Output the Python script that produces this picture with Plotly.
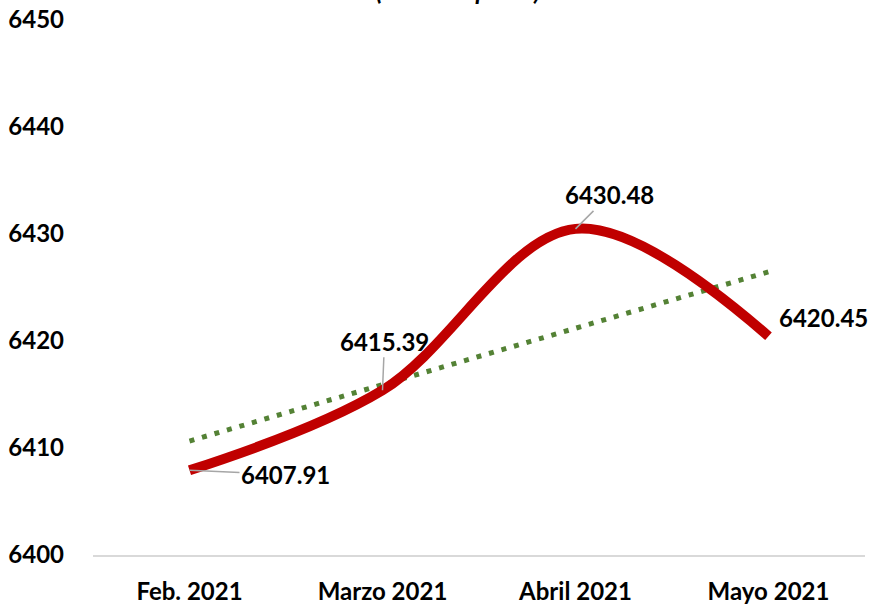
import plotly.graph_objects as go
import numpy as np

categories = ["Feb. 2021", "Marzo 2021", "Abril 2021", "Mayo 2021"]
values = [6407.91, 6415.39, 6430.48, 6420.45]
value_labels = ["6407.91", "6415.39", "6430.48", "6420.45"]
y_ticks = [6400, 6410, 6420, 6430, 6440, 6450]
title_text = "(Miles de pesos)"

# linear trend (least squares) from the data
xi = np.arange(len(values))
slope, intercept = np.polyfit(xi, values, 1)
trend = [intercept + slope * i for i in xi]

FONT = "Lato"

fig = go.Figure()
fig.add_trace(go.Scatter(
    x=categories, y=trend, mode="lines",
    line=dict(color="#548235", width=5, dash="5px,8px"),
    hoverinfo="skip", showlegend=False))
fig.add_trace(go.Scatter(
    x=categories, y=values, mode="lines",
    line=dict(color="#C00000", width=10, shape="spline", smoothing=1.0),
    showlegend=False))

# data labels with leader lines (offsets in pixels)
offsets = [(96, 4), (2, -49), (34, -34), (None, None)]
for i, (cat, v, lab) in enumerate(zip(categories, values, value_labels)):
    ax, ay = offsets[i]
    if ax is None:
        fig.add_annotation(x=cat, y=v, text=lab, showarrow=False,
                           xshift=55, yshift=19,
                           font=dict(family=FONT, size=24, color="black", weight="bold"))
    else:
        fig.add_annotation(x=cat, y=v, text=lab, showarrow=True, arrowhead=0,
                           arrowwidth=1.5, arrowcolor="#A6A6A6", ax=ax, ay=ay,
                           standoff=0, startstandoff=0,
                           font=dict(family=FONT, size=24, color="black", weight="bold"))

fig.add_annotation(xref="paper", yref="paper", x=0.473, y=1, yanchor="bottom",
                   yshift=13, text=title_text, showarrow=False,
                   font=dict(family=FONT, size=25, color="black", weight="bold", style="italic"))

fig.update_layout(
    width=871, height=607,
    margin=dict(l=93, r=6, t=20, b=52),
    plot_bgcolor="white", paper_bgcolor="white",
    font=dict(family=FONT, color="black"),
    xaxis=dict(type="category", range=[-0.5, 3.5], showgrid=False, automargin=False,
               showline=True, linecolor="#D9D9D9", linewidth=1.5,
               ticks="", tickfont=dict(family=FONT, size=24, color="black", weight="bold"),
               ticklabelstandoff=14),
    yaxis=dict(range=[6400, 6450], tickvals=y_ticks, showgrid=False, automargin=False,
               zeroline=False, showline=False, ticks="",
               tickfont=dict(family=FONT, size=24, color="black", weight="bold"),
               ticklabelstandoff=28),
)

fig.write_html("out.html", config={"displayModeBar": False},
               post_script="document.body.style.margin='0';document.body.style.overflow='hidden';")
